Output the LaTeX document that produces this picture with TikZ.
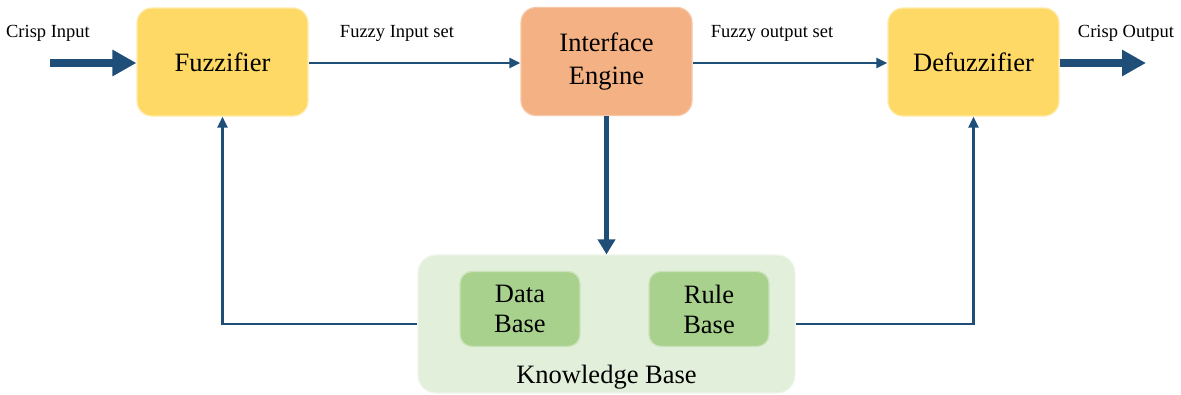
\documentclass[tikz,border=0pt]{standalone}
\usepackage{fontspec}
\setmainfont{Liberation Serif}
\usetikzlibrary{arrows.meta}
\definecolor{flowblue}{HTML}{1F4E79}
\definecolor{boxyellow}{HTML}{FFD966}
\definecolor{boxsalmon}{HTML}{F4B183}
\definecolor{kbgreen}{HTML}{E2EFDA}
\definecolor{dbgreen}{HTML}{A9D18E}
\tikzset{
  block/.style={rounded corners=15pt, minimum width=171pt, minimum height=108pt,
    align=center, inner sep=0pt, font=\fontsize{26.5}{33}\selectfont, line width=1.2pt},
  yellowblock/.style={block, fill=boxyellow, draw=boxyellow!55!white},
  salmonblock/.style={block, fill=boxsalmon, draw=boxsalmon!70!white},
  kbblock/.style={rounded corners=18pt, minimum width=377pt, minimum height=138pt,
    fill=kbgreen, draw=kbgreen!60!white, line width=1.2pt},
  subblock/.style={rounded corners=12pt, minimum width=120pt, minimum height=75pt,
    align=center, inner sep=0pt, fill=dbgreen, draw=dbgreen!60!white, line width=1.2pt,
    font=\fontsize{26.5}{30}\selectfont},
  flowlabel/.style={font=\fontsize{18.5}{20}\selectfont, inner sep=0pt},
  thickflow/.style={flowblue, line width=8pt, -{Triangle[length=24pt,width=25pt]}},
  thinflow/.style={flowblue, line width=2.6pt, -{Triangle[length=11pt,width=10pt]}},
  downflow/.style={flowblue, line width=4.5pt, -{Triangle[length=15pt,width=17pt]}},
}
\begin{document}
\begin{tikzpicture}[x=1pt,y=-1pt]
\useasboundingbox (0,0) rectangle (1181,394);

% processing blocks
\node[yellowblock] (fuzz) at (222.5,62) {Fuzzifier};
\node[salmonblock] (ie) at (606.5,61.5) {Interface\\Engine};
\node[yellowblock] (defuzz) at (973.5,62) {Defuzzifier};

% knowledge base with its two parts
\node[kbblock] (kb) at (606.5,324) {};
\node[subblock] (db) at (520,309) {Data\\Base};
\node[subblock] (rb) at (709,309) {Rule\\Base};
\node[font=\fontsize{26.5}{30}\selectfont, inner sep=0pt] (kblabel) at (606.5,377) {Knowledge Base};

% crisp input and output
\coordinate (cin) at (50,63);
\coordinate (cout) at (1146,63);
\draw[thickflow] (cin) -- (fuzz.west |- cin);
\draw[thickflow] (defuzz.east |- cout) -- (cout);

% fuzzy sets between blocks
\draw[thinflow] (fuzz.east |- 0,63) -- (ie.west |- 0,63);
\draw[thinflow] (ie.east |- 0,63) -- (defuzz.west |- 0,63);

% inference to knowledge base
\draw[downflow] (ie.south) -- (kb.north);

% knowledge base feedback
\draw[thinflow] (kb.west) -| (fuzz.south);
\draw[thinflow] (kb.east) -| (defuzz.south);

% labels
\node[flowlabel] (lcin) at (48,33) {Crisp Input};
\node[flowlabel] (lfin) at (397,33) {Fuzzy Input set};
\node[flowlabel] (lfout) at (772,33) {Fuzzy output set};
\node[flowlabel] (lcout) at (1126,33) {Crisp Output};
\end{tikzpicture}
\end{document}
